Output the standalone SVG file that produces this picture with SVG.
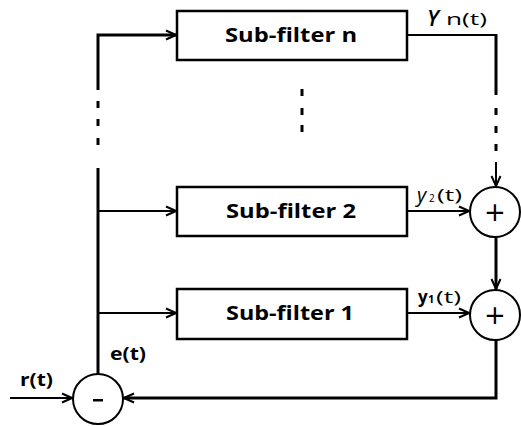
<svg xmlns="http://www.w3.org/2000/svg" width="521" height="426" viewBox="0 0 521 426">
<defs>
<marker id="arr" markerWidth="12" markerHeight="12" refX="11" refY="6" orient="auto" markerUnits="userSpaceOnUse">
<path d="M1,1.5 L11,6 L1,10.5" fill="none" stroke="#000" stroke-width="2"/>
</marker>
</defs>
<style>
.box{fill:#fff;stroke:#000;stroke-width:2.5}
.ln{fill:none;stroke:#000;stroke-width:2}
.thick{fill:none;stroke:#000;stroke-width:3}
.dot{fill:#000}
.lbl{font-family:"Open Sans","DejaVu Sans",sans-serif;font-weight:bold;font-size:19px}
.sig{font-family:"Open Sans","DejaVu Sans",sans-serif;font-size:17px}
.sigb{font-family:"Open Sans","DejaVu Sans",sans-serif;font-size:17px;font-weight:bold}
.op{font-family:"DejaVu Sans",sans-serif;font-size:26px;text-anchor:middle}
</style>
<rect width="521" height="426" fill="#fff"/>
<g id="connectors">
<polyline class="thick" points="98,90 98,35 176,35" marker-end="url(#arr)"/>
<line class="thick" x1="98" y1="168" x2="98" y2="374"/>
<rect class="dot" x="96.5" y="101" width="3" height="7"/>
<rect class="dot" x="96.5" y="119" width="3" height="7"/>
<rect class="dot" x="96.5" y="138" width="3" height="7"/>
<line class="ln" x1="98" y1="211" x2="176" y2="211" marker-end="url(#arr)"/>
<line class="ln" x1="98" y1="313" x2="176" y2="313" marker-end="url(#arr)"/>
<rect class="dot" x="300.5" y="89" width="3" height="7"/>
<rect class="dot" x="300.5" y="108" width="3" height="7"/>
<rect class="dot" x="300.5" y="125" width="3" height="7"/>
<polyline class="ln" points="407,35 496,35"/>
<line class="thick" x1="496" y1="34" x2="496" y2="95"/>
<rect class="dot" x="494.5" y="108" width="3" height="7"/>
<rect class="dot" x="494.5" y="126" width="3" height="7"/>
<rect class="dot" x="494.5" y="144" width="3" height="7"/>
<line class="ln" x1="496" y1="162" x2="496" y2="186" marker-end="url(#arr)"/>
<line class="ln" x1="408" y1="211" x2="469" y2="211" marker-end="url(#arr)"/>
<line class="thick" x1="496" y1="236" x2="496" y2="289" marker-end="url(#arr)"/>
<line class="ln" x1="408" y1="313" x2="469" y2="313" marker-end="url(#arr)"/>
<polyline class="thick" points="496,340 496,398 124,398" marker-end="url(#arr)"/>
<line class="ln" x1="10" y1="398" x2="72" y2="398" marker-end="url(#arr)"/>
</g>
<g id="subfilter-n">
<rect class="box" x="177" y="11" width="230" height="49"/>
<text class="lbl" x="225" y="42" textLength="132" lengthAdjust="spacingAndGlyphs">Sub-filter n</text>
</g>
<g id="subfilter-2">
<rect class="box" x="177" y="187" width="230" height="49"/>
<text class="lbl" x="226" y="218" textLength="130" lengthAdjust="spacingAndGlyphs">Sub-filter 2</text>
</g>
<g id="subfilter-1">
<rect class="box" x="177" y="289" width="230" height="50"/>
<text class="lbl" x="226" y="320" textLength="128" lengthAdjust="spacingAndGlyphs">Sub-filter 1</text>
</g>
<g id="sum-2">
<circle class="ln" cx="495" cy="212" r="25" fill="#fff"/>
<text class="op" x="495" y="221">+</text>
</g>
<g id="sum-1">
<circle class="ln" cx="495" cy="315" r="25" fill="#fff"/>
<text class="op" x="495" y="324">+</text>
</g>
<g id="minus">
<circle class="ln" cx="98" cy="399" r="25" fill="#fff"/>
<rect x="93" y="399" width="10" height="2.5" fill="#000"/>
</g>
<g id="labels">
<text x="427" y="26" font-family="'Open Sans','DejaVu Sans',sans-serif" font-size="22" font-style="italic" font-weight="600">Y</text>
<text class="sig" x="446" y="25" textLength="41" lengthAdjust="spacingAndGlyphs">n(t)</text>
<text x="417" y="202" font-family="'Open Sans','DejaVu Sans',sans-serif" font-size="20" font-style="italic">y</text>
<text x="429" y="202" font-family="'Open Sans','DejaVu Sans',sans-serif" font-size="10">2</text>
<text class="sig" x="437" y="201" textLength="25" lengthAdjust="spacingAndGlyphs">(t)</text>
<text class="sigb" x="418" y="303">y</text>
<text x="428" y="303" font-family="'Open Sans','DejaVu Sans',sans-serif" font-size="11" font-weight="bold">1</text>
<text class="sig" x="436" y="303" textLength="25" lengthAdjust="spacingAndGlyphs">(t)</text>
<text class="sigb" x="20" y="386" textLength="33" lengthAdjust="spacingAndGlyphs">r(t)</text>
<text class="sigb" x="110" y="360" textLength="36" lengthAdjust="spacingAndGlyphs">e(t)</text>
</g>
</svg>
